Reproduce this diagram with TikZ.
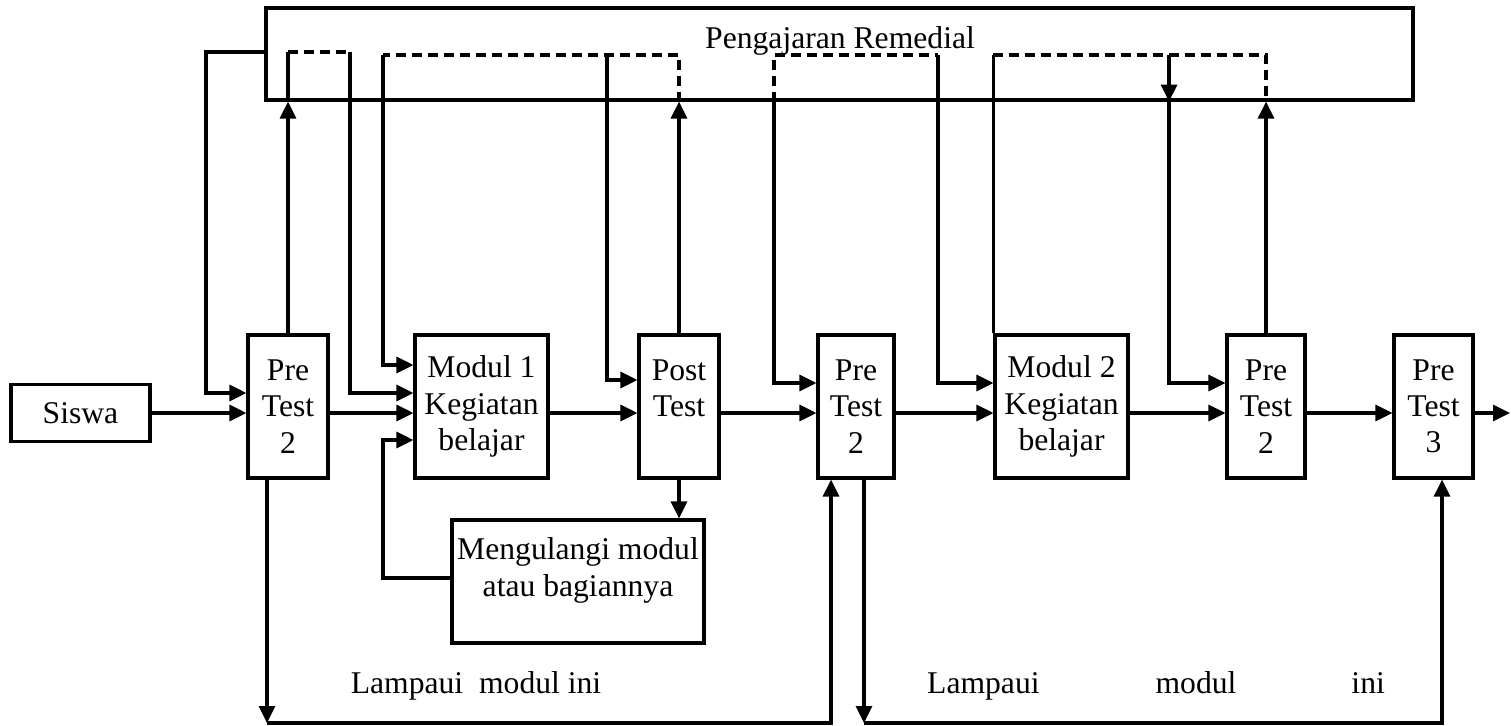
\documentclass[tikz,border=0pt]{standalone}
\usepackage{fontspec}
\setmainfont{Liberation Serif}
\usetikzlibrary{arrows.meta,positioning,calc}

\begin{document}
\begin{tikzpicture}[every node/.style={font=\fontsize{9}{10.3}\selectfont,align=center},
  box/.style={draw,line width=0.9pt,inner sep=1pt},
  line/.style={line width=0.9pt},
  arr/.style={line width=0.9pt,-{Triangle[length=1.7mm,width=1.6mm]}},
  dashline/.style={line width=0.9pt,dash pattern=on 1mm off 0.6mm}]
\useasboundingbox (0,0) rectangle (15.11,-7.25);
\node[box,minimum width=11.47cm,minimum height=0.92cm] (rem) at (8.395,-0.54) {};
\node (judul) at (8.40,-0.41) {Pengajaran Remedial};
\node[box,minimum width=1.39cm,minimum height=0.57cm] (siswa) at (0.805,-4.13) {Siswa};
\node[box,minimum width=0.80cm,minimum height=1.43cm] (pre1) at (2.88,-4.065) {Pre\\Test\\2};
\node[box,minimum width=1.33cm,minimum height=1.43cm] (modul1) at (4.815,-4.065) {Modul 1\\Kegiatan\\belajar};
\node[box,minimum width=0.80cm,minimum height=1.43cm] (post) at (6.79,-4.065) {Post\\Test\\\mbox{}};
\node[box,minimum width=0.76cm,minimum height=1.43cm] (pre2) at (8.56,-4.065) {Pre\\Test\\2};
\node[box,minimum width=1.33cm,minimum height=1.43cm] (modul2) at (10.615,-4.065) {Modul 2\\Kegiatan\\belajar};
\node[box,minimum width=0.78cm,minimum height=1.43cm] (pre2b) at (12.66,-4.065) {Pre\\Test\\2};
\node[box,minimum width=0.79cm,minimum height=1.43cm] (pre3) at (14.335,-4.065) {Pre\\Test\\3};
\node[box,minimum width=2.52cm,minimum height=1.23cm] (ulang) at (5.78,-5.815) {};
\node (ulangtxt) at (5.78,-5.705) {Mengulangi modul\\atau bagiannya};
\node (lewat1) at (4.76,-6.86) {Lampaui\ \ modul ini};
\node (lewat2) at (11.56,-6.86) {Lampaui\hspace{1.16cm}modul\hspace{1.15cm}ini};
\coordinate (hA) at (0,-0.52); \coordinate (hB) at (0,-0.55); \coordinate (hC) at (0,-7.23);
\coordinate (eA) at (0,-3.65); \coordinate (eB) at (0,-3.80); \coordinate (eC) at (0,-3.83);
\coordinate (eD) at (0,-3.93); \coordinate (eE) at (0,-4.40); \coordinate (eF) at (0,-5.78);
\coordinate (v1) at (2.06,0); \coordinate (v2) at (3.50,0); \coordinate (v3) at (3.83,0);
\coordinate (v4) at (6.07,0); \coordinate (v5) at (7.74,0); \coordinate (v6) at (9.38,0);
\coordinate (v7) at (11.69,0); \coordinate (b1) at (2.67,0); \coordinate (b2) at (8.31,0);
\coordinate (b3) at (8.64,0); \coordinate (b4) at (14.42,0); \coordinate (keluar) at (15.10,0);
\draw[arr] (siswa.east) -- (pre1.west |- siswa); \draw[arr] (pre1.east |- siswa) -- (modul1.west |- siswa);
\draw[arr] (modul1.east |- siswa) -- (post.west |- siswa); \draw[arr] (post.east |- siswa) -- (pre2.west |- siswa);
\draw[arr] (pre2.east |- siswa) -- (modul2.west |- siswa); \draw[arr] (modul2.east |- siswa) -- (pre2b.west |- siswa);
\draw[arr] (pre2b.east |- siswa) -- (pre3.west |- siswa); \draw[arr] (pre3.east |- siswa) -- (keluar |- siswa);
\draw[arr] (rem.west |- hA) -| (v1 |- eD) -- (pre1.west |- eD);
\draw[arr] (pre1.north) -- (pre1.north |- rem.south); \draw[line] (pre1.north |- rem.south) -- (pre1.north |- hA);
\draw[dashline] (pre1.north |- hA) -- (v2 |- hA); \draw[arr] (v2 |- hA) |- (modul1.west |- eD);
\draw[arr] (post.north) -- (post.north |- rem.south); \draw[dashline] (post.north |- rem.south) |- (v3 |- hB);
\draw[arr] (v3 |- hB) |- (modul1.west |- eA); \draw[arr] (v4 |- hB) |- (post.west |- eB);
\draw[dashline] (v5 |- rem.south) |- (v6 |- hB);
\draw[arr] (v5 |- rem.south) |- (pre2.west |- eC); \draw[arr] (v6 |- hB) |- (modul2.west |- eC);
\draw[line] (modul2.north west) -- (modul2.north west |- hB);
\draw[dashline] (modul2.north west |- hB) -| (pre2b.north |- rem.south);
\draw[arr] (pre2b.north) -- (pre2b.north |- rem.south);
\draw[arr] (v7 |- hB) -- (v7 |- rem.south); \draw[arr] (v7 |- rem.south) |- (pre2b.west |- eC);
\draw[arr] (post.south) -- (post.south |- ulang.north);
\draw[arr] (ulang.west |- eF) -| (v3 |- eE) -- (modul1.west |- eE);
\draw[arr] (b1 |- pre1.south) -- (b1 |- hC); \draw[arr] (b1 |- hC) -| (b2 |- pre2.south);
\draw[arr] (b3 |- pre2.south) -- (b3 |- hC); \draw[arr] (b3 |- hC) -| (b4 |- pre3.south);
\end{tikzpicture}
\end{document}
